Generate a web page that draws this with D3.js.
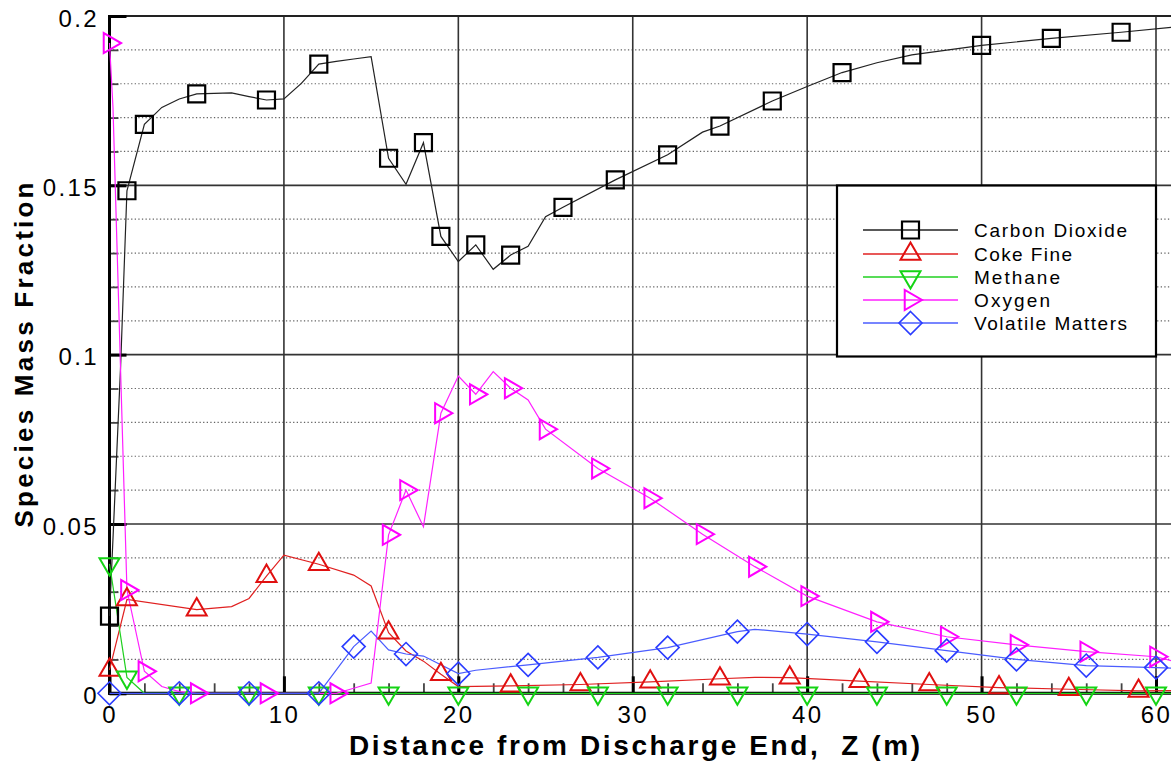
<!DOCTYPE html>
<html>
<head>
<meta charset="utf-8">
<script src="https://cdn.jsdelivr.net/npm/d3@7"></script>
<style>
body{margin:0;background:#fff;}
svg{display:block;font-family:"Liberation Sans",Arial,sans-serif;}
</style>
</head>
<body>
<svg id="chart" width="1171" height="763"></svg>
<script>
// values: [z (m), species mass fraction]
var co2 = [[0,0.0228],[0.22,0.048],[0.64,0.097],[1,0.1484],[2,0.168],[3,0.173],[4,0.1755],[5,0.177],[7,0.1773],[8,0.1762],[9,0.1752],[10,0.1755],[11,0.1801],[12,0.1858],[13,0.1866],[14,0.1873],[15,0.188],[16,0.158],[17,0.1503],[18,0.1626],[19,0.1349],[20,0.1275],[21,0.1324],[22,0.1252],[23,0.1294],[24,0.132],[25,0.1407],[26,0.1435],[29,0.1516],[32,0.159],[34,0.1657],[35,0.1675],[38,0.1749],[40,0.1792],[42,0.1833],[44,0.1862],[46,0.1885],[50,0.1913],[54,0.1934],[58,0.1952],[61,0.1967]];
var cokeFine = [[0,0.0069],[1,0.0277],[5,0.0247],[7,0.0256],[8,0.028],[9,0.0346],[10,0.0408],[12,0.0381],[14,0.0349],[15,0.0317],[16,0.0179],[17,0.0125],[18,0.0095],[19,0.0056],[20,0.002],[23,0.0022],[27,0.0026],[31,0.0034],[35,0.0043],[37,0.0047],[39,0.0046],[43,0.0036],[47,0.0026],[51,0.0017],[55,0.0012],[59,0.0007],[61,0.0008]];
var methane = [[0,0.0382],[1,0.0047],[2,0],[4,0],[8,0],[12,0],[16,0],[20,0],[24,0],[28,0],[32,0],[36,0],[40,0],[44,0],[48,0],[52,0],[56,0],[60,0],[61,0]];
var oxygen = [[0,0.192],[0.2,0.173],[1,0.0305],[2,0.0065],[3,0.002],[4,0.0005],[5,0],[9,0],[13,0],[14,0.0015],[15,0.003],[16,0.0468],[17,0.06],[18,0.0492],[19,0.0827],[20,0.0937],[21,0.0883],[22,0.095],[23,0.0901],[24,0.0866],[25,0.078],[28,0.0664],[31,0.0576],[34,0.047],[37,0.0374],[40,0.0287],[44,0.0211],[48,0.0167],[52,0.0143],[56,0.0123],[60,0.0108],[61,0.0095]];
var volatiles = [[0,0],[4,0],[8,0],[12,0],[14,0.0138],[15,0.0184],[16,0.0128],[17,0.0116],[18,0.011],[20,0.0058],[21,0.0068],[24,0.0084],[28,0.0106],[32,0.0135],[36,0.0182],[37,0.0189],[40,0.0175],[44,0.0152],[48,0.0126],[52,0.01],[56,0.0082],[60,0.0076],[61,0.0074]];

// z positions where a symbol is drawn
var co2Marks = [0,1,2,5,9,12,16,18,19,21,23,26,29,32,35,38,42,46,50,54,58];
var cokeMarks = [0,1,5,9,12,16,19,23,27,31,35,39,43,47,51,55,59];
var methaneMarks = [0,1,4,8,12,16,20,24,28,32,36,40,44,48,52,56,60];
var oxygenMarks = [0,1,2,5,9,13,16,17,19,21,23,25,28,31,34,37,40,44,48,52,56,60];
var volatileMarks = [0,4,8,12,14,17,20,24,28,32,36,40,44,48,52,56,60];

var seriesNames = ['Carbon Dioxide','Coke Fine','Methane','Oxygen','Volatile Matters'];
var xTicks = [0,10,20,30,40,50,60];
var yTicks = [0,0.05,0.1,0.15,0.2];

var svg = d3.select('#chart');
var x = d3.scaleLinear().domain([0,60]).range([109.5,1156]);
var y = d3.scaleLinear().domain([0,0.2]).range([693.3,16]);
var xEnd = x(61.5);

// symbol paths, centred on the centroid like tecplot does
function symbolPath(kind, s){
  var h = s*Math.sqrt(3)/2;
  if(kind==='square') return 'M'+(-s/2)+','+(-s/2)+'H'+(s/2)+'V'+(s/2)+'H'+(-s/2)+'Z';
  if(kind==='up') return 'M0,'+(-2*h/3)+'L'+(s/2)+','+(h/3)+'L'+(-s/2)+','+(h/3)+'Z';
  if(kind==='down') return 'M0,'+(2*h/3)+'L'+(s/2)+','+(-h/3)+'L'+(-s/2)+','+(-h/3)+'Z';
  if(kind==='right') return 'M'+(2*h/3)+',0L'+(-h/3)+','+(s/2)+'L'+(-h/3)+','+(-s/2)+'Z';
  return 'M0,'+(-s/2)+'L'+(s/2)+',0L0,'+(s/2)+'L'+(-s/2)+',0Z';
}

var series = [
  {name:seriesNames[0], data:co2, marks:co2Marks, color:'#000', line:'#222', kind:'square', size:17, sw:2.2},
  {name:seriesNames[1], data:cokeFine, marks:cokeMarks, color:'#e01010', line:'#e02020', kind:'up', size:20, sw:2},
  {name:seriesNames[2], data:methane, marks:methaneMarks, color:'#14d414', line:'#20d020', kind:'down', size:20, sw:2},
  {name:seriesNames[3], data:oxygen, marks:oxygenMarks, color:'#ff00ff', line:'#ff20ff', kind:'right', size:20, sw:2},
  {name:seriesNames[4], data:volatiles, marks:volatileMarks, color:'#2a3cff', line:'#4a5cff', kind:'diamond', size:23, sw:1.6}
];

function valueAt(data, z){
  for(var i=0;i<data.length-1;i++){
    var a=data[i], b=data[i+1];
    if(z>=a[0] && z<=b[0]) return a[1]+(b[1]-a[1])*(z-a[0])/(b[0]-a[0]);
  }
  return data[data.length-1][1];
}

// grid
var minorY = d3.range(1,20).map(function(i){return i/100;}).filter(function(v){return Math.round(v*100)%5!==0;});
svg.append('g').selectAll('line').data(minorY).enter().append('line')
  .attr('x1',x(0)).attr('x2',xEnd)
  .attr('y1',function(d){return y(d);}).attr('y2',function(d){return y(d);})
  .attr('stroke','#666').attr('stroke-width',1.2).attr('stroke-dasharray','1.3,2.3');
svg.append('g').selectAll('line').data([0.05,0.1,0.15]).enter().append('line')
  .attr('x1',x(0)).attr('x2',xEnd)
  .attr('y1',function(d){return y(d);}).attr('y2',function(d){return y(d);})
  .attr('stroke','#333').attr('stroke-width',1.6);
svg.append('g').selectAll('line').data(xTicks.slice(1)).enter().append('line')
  .attr('x1',function(d){return x(d);}).attr('x2',function(d){return x(d);})
  .attr('y1',y(0.2)).attr('y2',y(0))
  .attr('stroke','#333').attr('stroke-width',1.6);

// frame
svg.append('line').attr('x1',x(0)).attr('x2',xEnd).attr('y1',y(0.2)).attr('y2',y(0.2))
  .attr('stroke','#222').attr('stroke-width',1.8);

// axes
var yAxis = d3.axisLeft(y).tickValues(yTicks).tickFormat(function(d){return String(d);})
  .tickSizeInner(-17).tickSizeOuter(0).tickPadding(10.5);
var gy = svg.append('g').attr('transform','translate('+x(0)+',0)').call(yAxis);
var yMinor = d3.axisLeft(y).tickValues(minorY).tickFormat('').tickSizeInner(-9).tickSizeOuter(0);
var gym = svg.append('g').attr('transform','translate('+x(0)+',0)').call(yMinor);

var xAxis = d3.axisBottom(x).tickValues(xTicks).tickFormat(function(d){return String(d);})
  .tickSizeInner(-17).tickSizeOuter(0).tickPadding(12.5);
var gx = svg.append('g').attr('transform','translate(0,'+y(0)+')').call(xAxis);
var minorX = d3.range(2,61,2).filter(function(v){return v%10!==0;});
var xMinor = d3.axisBottom(x).tickValues(minorX).tickFormat('').tickSizeInner(-10).tickSizeOuter(0);
var gxm = svg.append('g').attr('transform','translate(0,'+y(0)+')').call(xMinor);

[gy,gx,gym,gxm].forEach(function(g){ g.select('.domain').remove(); });
[gy,gx].forEach(function(g){
  g.selectAll('.tick line').attr('stroke','#000').attr('stroke-width',3);
  g.selectAll('text').attr('fill','#000').attr('font-size','24px')
    .attr('letter-spacing','2.4px').attr('font-family','"Liberation Sans",Arial,sans-serif');
});
gy.selectAll('text').attr('dy','0.43em');
[gym,gxm].forEach(function(g){
  g.selectAll('.tick line').attr('stroke','#444').attr('stroke-width',1.8);
});

svg.append('line').attr('x1',x(0)).attr('x2',x(0)).attr('y1',y(0.2)-1).attr('y2',y(0)+1.5)
  .attr('stroke','#000').attr('stroke-width',3);
svg.append('line').attr('x1',x(0)-1.5).attr('x2',xEnd).attr('y1',y(0)).attr('y2',y(0))
  .attr('stroke','#000').attr('stroke-width',3);

// axis titles
svg.append('text')
  .attr('transform','translate(33,355) rotate(-90)')
  .attr('text-anchor','middle').attr('font-weight','bold').attr('font-size','26px')
  .attr('textLength',345).attr('lengthAdjust','spacing')
  .text('Species Mass Fraction');
svg.append('text')
  .attr('x',349).attr('y',755)
  .attr('font-weight','bold').attr('font-size','28px')
  .attr('textLength',571).attr('lengthAdjust','spacing')
  .style('white-space','pre')
  .text('Distance from Discharge End,  Z (m)');

// data lines and symbols
var line = d3.line().x(function(d){return x(d[0]);}).y(function(d){return y(d[1]);});
series.forEach(function(s){
  svg.append('path').datum(s.data).attr('d',line)
    .attr('fill','none').attr('stroke',s.line).attr('stroke-width',1.2);
});
series.forEach(function(s){
  svg.append('g').selectAll('path').data(s.marks).enter().append('path')
    .attr('transform',function(z){return 'translate('+x(z)+','+y(valueAt(s.data,z))+')';})
    .attr('d',symbolPath(s.kind,s.size))
    .attr('fill','none').attr('stroke',s.color).attr('stroke-width',s.sw);
});

// legend
var legend = svg.append('g');
legend.append('rect').attr('x',837).attr('y',185.5).attr('width',319).attr('height',171)
  .attr('fill','#fff').attr('stroke','#000').attr('stroke-width',2.2);
var rowY = [230,254,277,300,323];
var labelLen = [153,98,86,76,153];
series.forEach(function(s,i){
  var row = legend.append('g').attr('transform','translate(0,'+rowY[i]+')');
  row.append('line').attr('x1',863).attr('x2',958).attr('y1',0).attr('y2',0)
    .attr('stroke',s.line).attr('stroke-width',1.3);
  row.append('path').attr('transform','translate(910.5,0)')
    .attr('d',symbolPath(s.kind,s.size)).attr('fill','none')
    .attr('stroke',s.color).attr('stroke-width',s.sw);
  row.append('text').attr('x',974).attr('y',7).attr('font-size','19px').attr('fill','#000')
    .attr('textLength',labelLen[i]).attr('lengthAdjust','spacing')
    .text(s.name);
});
</script>
</body>
</html>
